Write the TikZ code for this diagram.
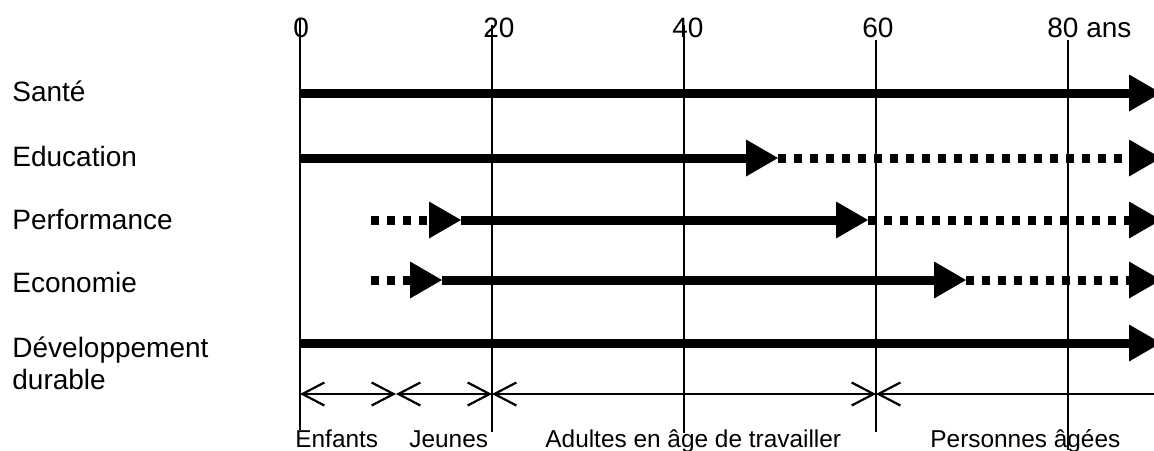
\documentclass[tikz,border=0pt]{standalone}
\usepackage{fontspec}
\setmainfont{Liberation Sans}
\usetikzlibrary{arrows.meta}
\begin{document}
\begin{tikzpicture}[x=0.5pt,y=-0.5pt,
  gridline/.style={line width=1pt},
  bar/.style={line width=4.5pt,-{Triangle[length=16pt,width=18.5pt,line width=0pt]}},
  dots/.style={bar,dash pattern=on 4pt off 4pt},
  axisline/.style={line width=0.75pt},
  barb/.style={axisline,arrows={Straight Barb[length=11pt,width=11.5pt,line width=1.1pt]-Straight Barb[length=11pt,width=11.5pt,line width=1.1pt]}},
  barbl/.style={axisline,arrows={Straight Barb[length=11pt,width=11.5pt,line width=1.1pt]-}},
  lbl/.style={anchor=base west,inner sep=0pt,font=\fontsize{14}{16}\selectfont},
  toplbl/.style={anchor=base west,inner sep=0pt,font=\fontsize{14}{16}\selectfont},
  botlbl/.style={anchor=base west,inner sep=0pt,font=\fontsize{12.2}{14}\selectfont}]
\useasboundingbox (0,0) rectangle (1154,450);
\fill[white] (0,0) rectangle (1154,450);

% left labels
\node[lbl] (lsante) at (12,101) {Santé};
\node[lbl] (ledu) at (12,166) {Education};
\node[lbl] (lperf) at (12,229) {Performance};
\node[lbl] (leco) at (12,292) {Economie};
\node[lbl,align=left] (ldev) at (12,389) {Développement\\durable};

% top labels
\node[toplbl] (t0) at (293,37) {0};
\node[toplbl] (t20) at (483,37) {20};
\node[toplbl] (t40) at (672,37) {40};
\node[toplbl] (t60) at (862,37) {60};
\node[toplbl] (t80) at (1047,37) {80 ans};

% bottom labels
\node[botlbl] (b1) at (295,447) {Enfants};
\node[botlbl] (b2) at (409,447) {Jeunes};
\node[botlbl] (b3) at (545,447) {Adultes en âge de travailler};
\node[botlbl] (b4) at (930,447) {Personnes âgées};

% vertical grid lines
\coordinate (v0t) at (300,18);   \coordinate (v0b) at (300,430);
\coordinate (v20t) at (492,25);  \coordinate (v20b) at (492,432);
\coordinate (v40t) at (684,25);  \coordinate (v40b) at (684,433);
\coordinate (v60t) at (876,40);  \coordinate (v60b) at (876,432);
\coordinate (v80t) at (1068,40); \coordinate (v80b) at (1068,450);
\draw[gridline] (v0t) -- (v0b);
\draw[gridline] (v20t) -- (v20b);
\draw[gridline] (v40t) -- (v40b);
\draw[gridline] (v60t) -- (v60b);
\draw[gridline] (v80t) -- (v80b);

% Sante
\coordinate (s0) at (300,93); \coordinate (s1) at (1161,93);
\draw[bar] (s0) -- (s1);
% Education
\coordinate (e0) at (300,158); \coordinate (e1) at (778,158); \coordinate (e2) at (1161,158);
\draw[bar] (e0) -- (e1);
\draw[dots] (e1) -- (e2);
% Performance
\coordinate (p0) at (371,220); \coordinate (p1) at (461,220); \coordinate (p2) at (868,220); \coordinate (p3) at (1161,220);
\draw[dots] (p0) -- (p1);
\draw[bar] (p1) -- (p2);
\draw[dots] (p2) -- (p3);
% Economie
\coordinate (c0) at (371,280); \coordinate (c1) at (442,280); \coordinate (c2) at (966,280); \coordinate (c3) at (1161,280);
\draw[dots] (c0) -- (c1);
\draw[bar] (c1) -- (c2);
\draw[dots] (c2) -- (c3);
% Developpement durable
\coordinate (d0) at (300,343); \coordinate (d1) at (1161,343);
\draw[bar] (d0) -- (d1);

% bottom axis
\coordinate (a0) at (300,394); \coordinate (a1) at (396,394); \coordinate (a2) at (492,394);
\coordinate (a3) at (876,394); \coordinate (a4) at (1154,394);
\draw[barb] (a0) -- (a1);
\draw[barb] (a1) -- (a2);
\draw[barb] (a2) -- (a3);
\draw[barbl] (a3) -- (a4);
\end{tikzpicture}
\end{document}
